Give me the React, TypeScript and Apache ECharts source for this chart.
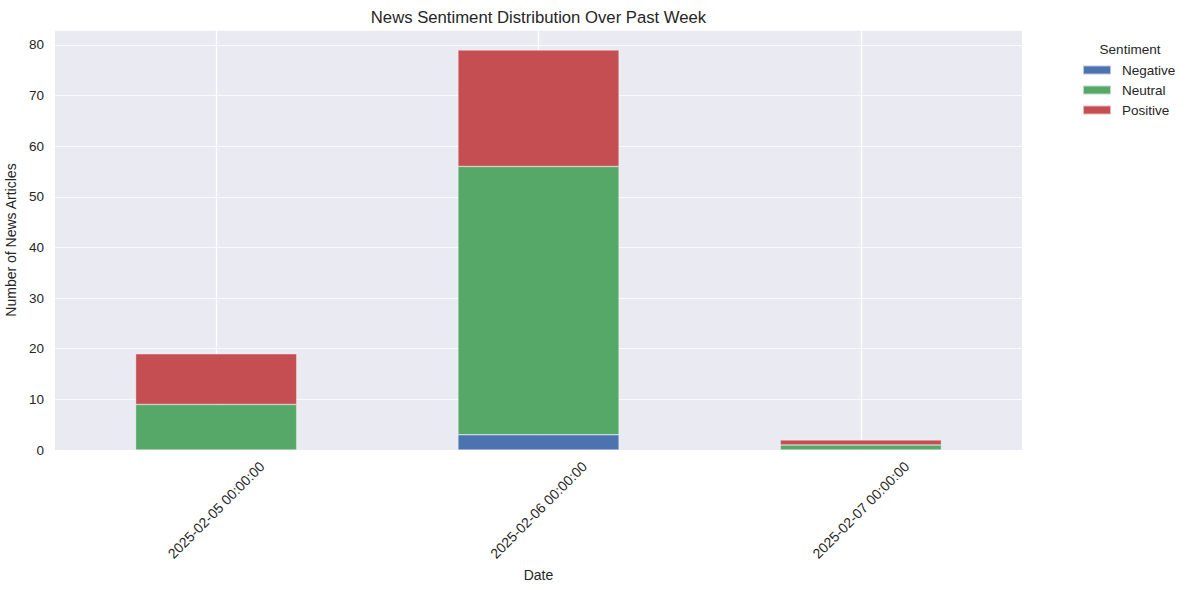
import React, { useEffect, useRef } from "react";
import * as echarts from "echarts";

const categories = ["2025-02-05 00:00:00", "2025-02-06 00:00:00", "2025-02-07 00:00:00"];
const negative = [0, 3, 0];
const neutral = [9, 53, 1];
const positive = [10, 23, 1];
const seriesNames = ["Negative", "Neutral", "Positive"];
const colors = ["#4C72B0", "#55A868", "#C44E52"];
const FONT = "'Liberation Sans', Arial, sans-serif";
const TXT = "#262626";

export default function App() {
  const ref = useRef<HTMLDivElement>(null);
  useEffect(() => {
    if (!ref.current) return;
    const chart = echarts.init(ref.current, null, { renderer: "svg" });
    const data = [negative, neutral, positive];
    const series: any[] = data.map((d, i) => ({
      name: seriesNames[i],
      type: "bar",
      stack: "total",
      data: d,
      barWidth: "50%",
      itemStyle: { color: colors[i], borderColor: "rgba(255,255,255,0.6)", borderWidth: 0.6 },
      z: 3,
      ...(i === 0
        ? {
            markLine: {
              silent: true,
              symbol: "none",
              z: 1,
              label: { show: false },
              lineStyle: { color: "#ffffff", type: "solid", width: 1.2 },
              data: categories.map((c) => ({ xAxis: c })),
            },
          }
        : {}),
    }));
    chart.setOption({
      animation: false,
      textStyle: { fontFamily: FONT, color: TXT },
      grid: {
        left: 55,
        right: 1191 - 1022,
        top: 30,
        bottom: 590 - 450,
        show: true,
        backgroundColor: "#EAEAF2",
        borderWidth: 0,
        containLabel: false,
        outerBoundsMode: "none",
      },
      legend: {
        orient: "vertical",
        left: 1082,
        top: 63,
        padding: 0,
        itemWidth: 28,
        itemHeight: 9,
        itemGap: 6,
        icon: "rect",
        data: seriesNames,
        textStyle: { fontFamily: FONT, fontSize: 13.5, color: TXT, padding: [0, 0, 0, 6] },
      },
      graphic: [
        {
          type: "text",
          x: 538.5,
          y: 17,
          style: {
            text: "News Sentiment Distribution Over Past Week",
            fontFamily: FONT,
            fontSize: 16.7,
            fill: TXT,
            textAlign: "center",
            textVerticalAlign: "middle",
          },
        },
        {
          type: "text",
          x: 1130,
          y: 49,
          style: {
            text: "Sentiment",
            fontFamily: FONT,
            fontSize: 13.5,
            fill: TXT,
            textAlign: "center",
            textVerticalAlign: "middle",
          },
        },
      ],
      xAxis: {
        type: "category",
        data: categories,
        name: "Date",
        nameLocation: "middle",
        nameGap: 106,
        nameTextStyle: { fontFamily: FONT, fontSize: 14, color: TXT },
        axisLine: { show: false },
        axisTick: { show: false },
        splitLine: { show: false },
        axisLabel: {
          rotate: 45,
          align: "center",
          verticalAlign: "middle",
          margin: 60,
          fontFamily: FONT,
          fontSize: 14,
          color: TXT,
        },
      },
      yAxis: {
        type: "value",
        min: 0,
        max: 82.95,
        interval: 10,
        name: "Number of News Articles",
        nameLocation: "middle",
        nameGap: 27,
        nameTextStyle: { fontFamily: FONT, fontSize: 14, color: TXT },
        axisLine: { show: false },
        axisTick: { show: false },
        axisLabel: {
          margin: 11,
          fontFamily: FONT,
          fontSize: 13.5,
          color: TXT,
          showMaxLabel: false,
        },
        splitLine: { show: true, lineStyle: { color: "rgba(255,255,255,0.75)", width: 1 } },
      },
      series,
    });
    return () => chart.dispose();
  }, []);
  return (
    <div
      ref={ref}
      style={{ position: "fixed", left: 0, top: 0, width: 1191, height: 590, background: "#ffffff" }}
    />
  );
}
